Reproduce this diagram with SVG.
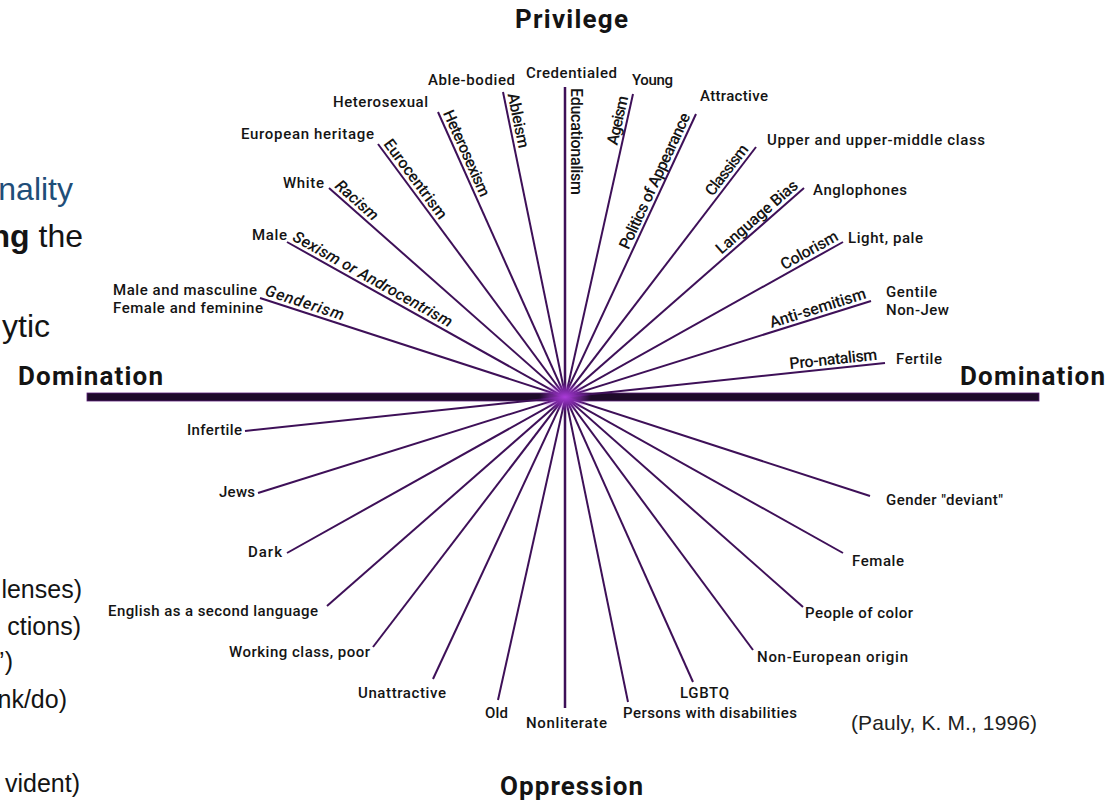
<svg xmlns="http://www.w3.org/2000/svg" width="1110" height="801" viewBox="0 0 1110 801">
<defs>
<radialGradient id="glow" cx="0.5" cy="0.5" r="0.5">
<stop offset="0" stop-color="#b03ee0" stop-opacity="0.95"/>
<stop offset="0.6" stop-color="#a035d0" stop-opacity="0.5"/>
<stop offset="1" stop-color="#a035d0" stop-opacity="0"/>
</radialGradient>
</defs>
<style>
.lbl{font-family:Roboto,"Liberation Sans",sans-serif;font-size:15px;font-weight:500;fill:#141414}
.ism{font-family:Roboto,"Liberation Sans",sans-serif;font-size:16px;font-weight:500;fill:#141414}
.it{font-style:italic}
.title{font-family:Roboto,"Liberation Sans",sans-serif;font-size:26px;font-weight:700;fill:#141414}
.slide{font-family:"Liberation Sans",Arial,sans-serif;fill:#141414}
.big{font-size:32px}
.mid{font-size:25px}
.spoke{stroke:#3e1058;stroke-width:2;fill:none;stroke-linecap:butt}
</style>
<rect width="1110" height="801" fill="#ffffff"/>

<g id="slide-remnants">
<text class="slide big" x="73" y="200" text-anchor="end" style="fill:#1f4e79">nality</text>
<text class="slide big" x="83" y="247" text-anchor="end"><tspan font-weight="700">ng</tspan> the</text>
<text class="slide big" x="50" y="337" text-anchor="end">ytic</text>
<text class="slide mid" x="82" y="598" text-anchor="end">lenses)</text>
<text class="slide mid" x="81" y="635" text-anchor="end">ctions)</text>
<text class="slide mid" x="13" y="670" text-anchor="end">’)</text>
<text class="slide mid" x="67" y="708" text-anchor="end">nk/do)</text>
<text class="slide mid" x="80" y="792" text-anchor="end">vident)</text>
</g>

<g id="titles">
<text class="title" x="515" y="28" textLength="113">Privilege</text>
<text class="title" x="18" y="385" textLength="145">Domination</text>
<text class="title" x="960" y="385" textLength="145">Domination</text>
<text class="title" x="500" y="795" textLength="143">Oppression</text>
</g>

<g id="connectors">
<rect x="87" y="393" width="952" height="8" fill="#1e0b2a" stroke="#5a1f78" stroke-width="0.8"/>
<line class="spoke" x1="260" y1="298" x2="870" y2="496"/>
<line class="spoke" x1="287" y1="242" x2="843" y2="553"/>
<line class="spoke" x1="329" y1="188" x2="803" y2="607"/>
<line class="spoke" x1="378" y1="144" x2="753" y2="650"/>
<line class="spoke" x1="438" y1="112" x2="693" y2="682"/>
<line class="spoke" x1="503" y1="92" x2="628" y2="702"/>
<line class="spoke" x1="565" y1="87" x2="565" y2="708" style="stroke-width:2.5"/>
<line class="spoke" x1="633" y1="94" x2="498" y2="700"/>
<line class="spoke" x1="696" y1="114" x2="433" y2="679"/>
<line class="spoke" x1="756" y1="147" x2="373" y2="647"/>
<line class="spoke" x1="804" y1="188" x2="327" y2="606"/>
<line class="spoke" x1="843" y1="242" x2="287" y2="553"/>
<line class="spoke" x1="871" y1="301" x2="258" y2="493"/>
<line class="spoke" x1="885" y1="363" x2="245" y2="431"/>
<ellipse cx="565" cy="397" rx="26" ry="15" fill="url(#glow)"/>
</g>

<g id="gender">
<text class="lbl" x="113" y="295" textLength="144">Male and masculine</text>
<text class="lbl" x="113" y="313" textLength="150">Female and feminine</text>
<text class="ism it" transform="translate(260,298) rotate(17.98)" x="3" y="-4" textLength="82">Genderism</text>
<text class="lbl" x="886" y="505" textLength="117">Gender "deviant"</text>
</g>

<g id="sex">
<text class="lbl" x="252" y="240" textLength="35">Male</text>
<text class="ism it" transform="translate(287,242) rotate(29.14)" x="3" y="-4" textLength="180">Sexism or Androcentrism</text>
<text class="lbl" x="852" y="566" textLength="52">Female</text>
</g>

<g id="race">
<text class="lbl" x="283" y="188" textLength="41">White</text>
<text class="ism it" transform="translate(329,188) rotate(41.52)" x="3" y="-4" textLength="52">Racism</text>
<text class="lbl" x="805" y="618" textLength="108">People of color</text>
</g>

<g id="origin">
<text class="lbl" x="241" y="139" textLength="133">European heritage</text>
<text class="ism" transform="translate(378,144) rotate(53.53)" x="3" y="-4" textLength="95">Eurocentrism</text>
<text class="lbl" x="757" y="662" textLength="151">Non-European origin</text>
</g>

<g id="sexuality">
<text class="lbl" x="333" y="107" textLength="95">Heterosexual</text>
<text class="ism" transform="translate(438,112) rotate(65.98)" x="3" y="-4" textLength="93">Heterosexism</text>
<text class="lbl" x="680" y="698" textLength="49">LGBTQ</text>
</g>

<g id="ability">
<text class="lbl" x="428" y="85" textLength="87">Able-bodied</text>
<text class="ism" transform="translate(503,92) rotate(78.51)" x="3" y="-4" textLength="56">Ableism</text>
<text class="lbl" x="623" y="718" textLength="174">Persons with disabilities</text>
</g>

<g id="education">
<text class="lbl" x="526" y="78" textLength="91">Credentialed</text>
<text class="ism" transform="translate(565,87) rotate(90)" x="1" y="-6" textLength="107">Educationalism</text>
<text class="lbl" x="526" y="728" textLength="81">Nonliterate</text>
</g>

<g id="age">
<text class="lbl" x="632" y="85" textLength="41">Young</text>
<text class="ism" transform="translate(633,94) rotate(-77.35)" x="-4" y="-4" text-anchor="end" textLength="50">Ageism</text>
<text class="lbl" x="485" y="718" textLength="23">Old</text>
</g>

<g id="appearance">
<text class="lbl" x="700" y="101" textLength="68">Attractive</text>
<text class="ism" transform="translate(696,114) rotate(-65.16)" x="-4" y="-4" text-anchor="end" textLength="148">Politics of Appearance</text>
<text class="lbl" x="358" y="698" textLength="88">Unattractive</text>
</g>

<g id="class">
<text class="lbl" x="767" y="145" textLength="218">Upper and upper-middle class</text>
<text class="ism" transform="translate(756,147) rotate(-52.62)" x="-6" y="-4" text-anchor="end" textLength="60">Classism</text>
<text class="lbl" x="229" y="657" textLength="141">Working class, poor</text>
</g>

<g id="language">
<text class="lbl" x="813" y="195" textLength="94">Anglophones</text>
<text class="ism" transform="translate(804,188) rotate(-41.17)" x="-3" y="-4" text-anchor="end" textLength="103">Language Bias</text>
<text class="lbl" x="108" y="616" textLength="210">English as a second language</text>
</g>

<g id="color">
<text class="lbl" x="848" y="243" textLength="75">Light, pale</text>
<text class="ism" transform="translate(843,242) rotate(-29.14)" x="-2" y="-4" text-anchor="end" textLength="63">Colorism</text>
<text class="lbl" x="248" y="557" textLength="34">Dark</text>
</g>

<g id="religion">
<text class="lbl" x="886" y="297" textLength="51">Gentile</text>
<text class="lbl" x="886" y="315" textLength="63">Non-Jew</text>
<text class="ism" transform="translate(871,301) rotate(-17.42)" x="-3" y="-4" text-anchor="end" textLength="100">Anti-semitism</text>
<text class="lbl" x="219" y="497" textLength="36">Jews</text>
</g>

<g id="fertility">
<text class="lbl" x="896" y="364" textLength="46">Fertile</text>
<text class="ism" transform="translate(885,363) rotate(-6.07)" x="-7" y="-4" text-anchor="end" textLength="88">Pro-natalism</text>
<text class="lbl" x="187" y="435" textLength="55">Infertile</text>
</g>

<g id="citation">
<text class="slide" x="851" y="730" textLength="186" style="fill:#222;font-size:21px">(Pauly, K. M., 1996)</text>
</g>
</svg>
